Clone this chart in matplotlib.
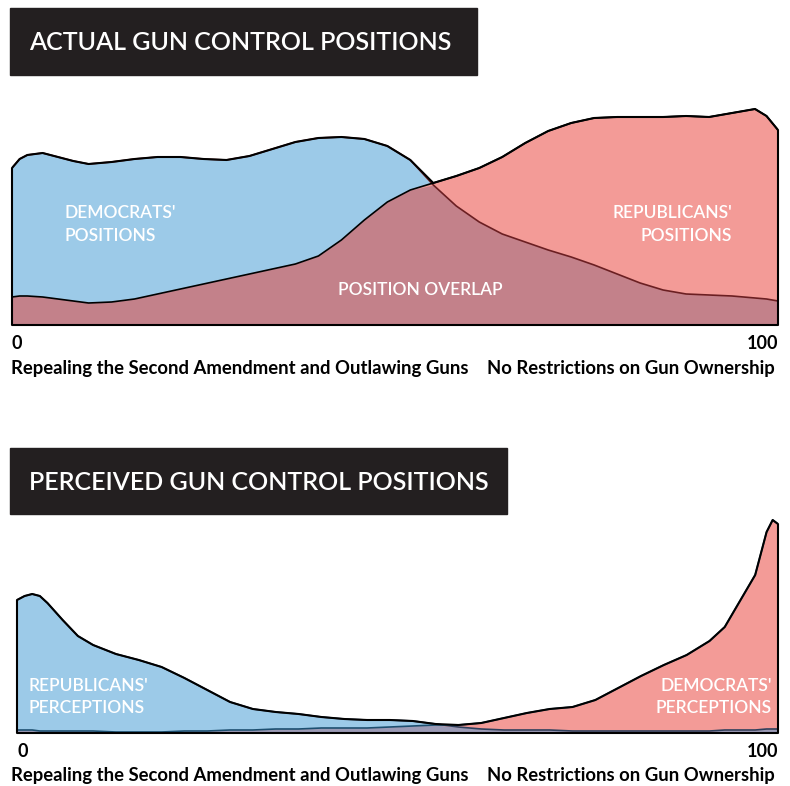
import numpy as np
import matplotlib
matplotlib.use('Agg')
import matplotlib.pyplot as plt
from matplotlib.patches import Rectangle

plt.rcParams['font.family'] = ['Lato', 'DejaVu Sans']

# actual positions (0 = repeal 2nd amendment, 100 = no restrictions)
actual_x = [0, 1, 2, 4, 6, 8, 10, 13, 16, 19, 22, 25, 28, 31, 34, 37, 40, 43, 46, 49,
            52, 55, 58, 61, 64, 67, 70, 73, 76, 79, 82, 85, 88, 91, 94, 97, 98.5, 100]
actual_dem = [157, 166, 170, 172, 168, 164, 161, 163, 166, 168, 168, 166, 165, 169, 176,
              183, 187, 188, 186, 179, 165, 140, 119, 103, 91, 83, 75, 68, 60, 51, 42,
              35, 31, 30, 29, 27, 26, 24]
actual_rep = [28, 29, 29, 28, 26, 24, 22, 23, 26, 31, 36, 41, 46, 51, 56, 61, 69, 85,
              105, 123, 135, 142, 149, 157, 168, 182, 194, 202, 207, 208, 208, 208, 209,
              208, 212, 216, 209, 195]

# perceived positions
perc_x = [0, 1, 2, 3, 4, 6, 8, 10, 13, 16, 19, 22, 25, 28, 31, 34, 37, 40, 43, 46, 49,
          52, 55, 58, 61, 64, 67, 70, 73, 76, 79, 82, 85, 88, 91, 93, 95, 97, 98.5,
          99.3, 100]
perc_rep = [133, 137, 139, 137, 130, 113, 97, 88, 79, 73, 66, 55, 43, 31, 24, 21, 19,
            16, 14, 13, 13, 12, 9, 6, 4, 3, 3, 3, 2, 2, 2, 2, 2, 2, 2, 3, 3, 3, 4, 4, 4]
perc_dem = [3, 3, 3, 2, 2, 2, 2, 2, 1, 1, 1, 2, 2, 3, 3, 4, 4, 5, 5, 5, 6, 7, 8, 8, 10,
            15, 20, 24, 26, 33, 45, 57, 68, 78, 92, 106, 132, 158, 201, 213, 209]

BLUE = '#9ccae8'
RED = '#f39b97'

W, H = 790, 786
fig = plt.figure(figsize=(W / 100, H / 100), dpi=100)


def fx(px):
    return px / W


def fy(py):
    return 1 - py / H


def title_box(x0, y0, x1, y1, text):
    fig.patches.append(Rectangle((fx(x0), fy(y1)), fx(x1) - fx(x0), fy(y0) - fy(y1),
                                 transform=fig.transFigure, color='#231f20', zorder=0))
    fig.text(fx(x0 + 19), fy((y0 + y1) / 2 + 1), text, color='white', fontsize=18,
             va='center', ha='left', fontweight='semibold')


def density_panel(ax, x, left, right, overlap_col, line_left, line_right, ymax):
    x = np.array(x, dtype=float)
    a = np.array(left, dtype=float)
    b = np.array(right, dtype=float)
    low = np.minimum(a, b)
    high = np.maximum(a, b)
    ax.fill_between(x, 0, a, color=BLUE, lw=0, zorder=1)
    ax.fill_between(x, 0, b, color=RED, lw=0, zorder=1)
    ax.fill_between(x, 0, low, color=overlap_col, lw=0, zorder=2)
    ax.plot(x, a, color=line_left, lw=1.2, zorder=3)
    ax.plot(x, b, color=line_right, lw=1.2, zorder=3)
    ax.fill_between(x, 0, high, facecolor='none', edgecolor='black', lw=1.5, zorder=4,
                    clip_on=False)
    ax.set_xlim(0, 100)
    ax.set_ylim(0, ymax)
    for s in ax.spines.values():
        s.set_visible(False)
    ax.set_yticks([])
    ax.set_xticks([0, 100])
    ax.set_xticklabels(['0', '100'], fontsize=13, fontweight='bold')
    labs = ax.get_xticklabels()
    labs[0].set_ha('left')
    labs[1].set_ha('right')
    ax.tick_params(axis='x', length=0, pad=7)


def inner(px, py, text, ha):
    fig.text(fx(px), fy(py), text, color='white', fontsize=12.5, va='center', ha=ha,
             fontweight='semibold')


def axis_ends(py):
    fig.text(fx(11), fy(py), 'Repealing the Second Amendment and Outlawing Guns',
             fontsize=13.3, fontweight='bold', va='center', ha='left')
    fig.text(fx(775), fy(py), 'No Restrictions on Gun Ownership', fontsize=13.3,
             fontweight='bold', va='center', ha='right')


# top panel: actual positions
ax1 = fig.add_axes([fx(12), fy(325), fx(778) - fx(12), 230 / H])
density_panel(ax1, actual_x, actual_dem, actual_rep, '#c3818a', '#6b1f22', 'black', 230)
title_box(10, 8, 477, 75, 'ACTUAL GUN CONTROL POSITIONS')

inner(64, 213, "DEMOCRATS'", 'left')
inner(64, 236, 'POSITIONS', 'left')
inner(732, 213, "REPUBLICANS'", 'right')
inner(732, 236, 'POSITIONS', 'right')
inner(420, 290, 'POSITION OVERLAP', 'center')
axis_ends(369)

# bottom panel: perceived positions
ax2 = fig.add_axes([fx(17), fy(733), fx(778) - fx(17), 228 / H])
density_panel(ax2, perc_x, perc_rep, perc_dem, '#9b9ab5', '#2e3f5c', '#1d4f70', 228)
title_box(10, 448, 507, 514, 'PERCEIVED GUN CONTROL POSITIONS')

inner(28, 686, "REPUBLICANS'", 'left')
inner(28, 708, 'PERCEPTIONS', 'left')
inner(772, 686, "DEMOCRATS'", 'right')
inner(772, 708, 'PERCEPTIONS', 'right')
axis_ends(776)

fig.savefig('out.png', dpi=100)
